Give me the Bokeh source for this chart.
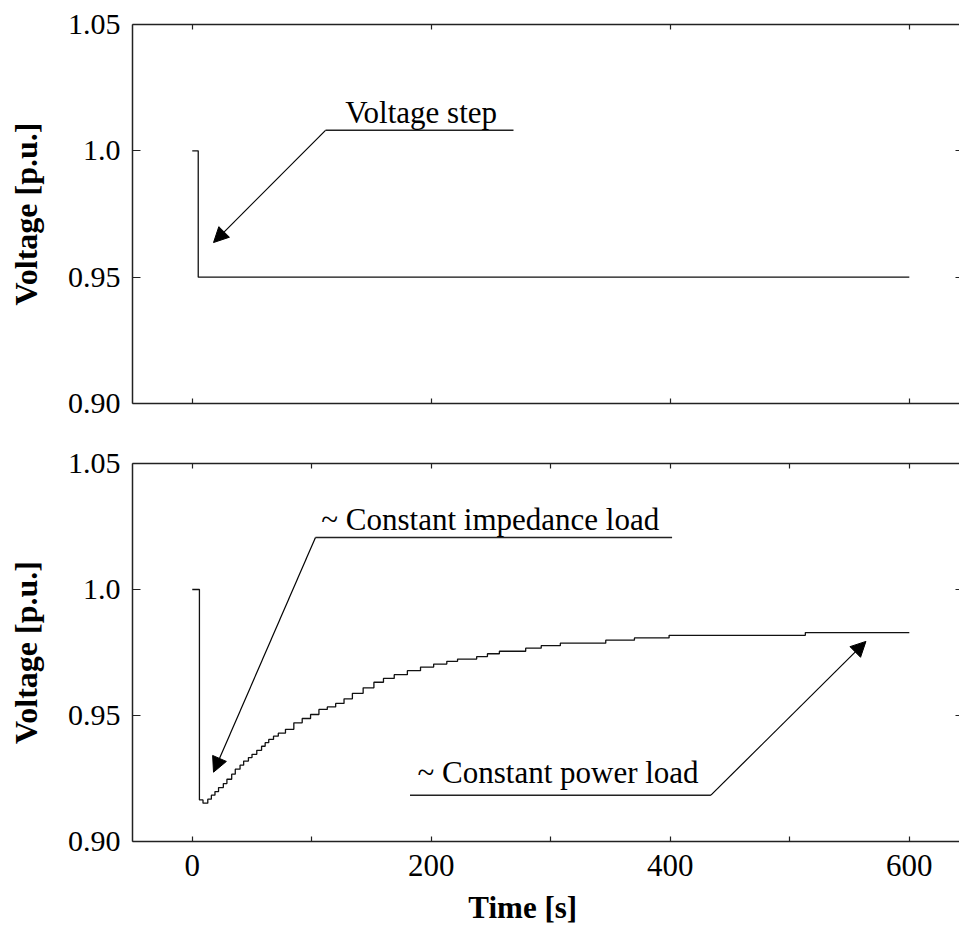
from bokeh.plotting import figure
from bokeh.layouts import column
from bokeh.models import (FixedTicker, CustomJSTickFormatter, LinearAxis, Label,
                          Arrow, NormalHead, Range1d)
from bokeh.embed import file_html
from bokeh.resources import INLINE

# ---- data ----
step_t = [0, 5, 600]
step_v = [1.0, 0.95, 0.95]

load_t = [0, 6, 9, 13, 16, 19, 22, 26, 29, 33, 36, 40, 43, 47, 50, 54, 58, 61, 64, 68,
          72, 78, 85, 92, 99, 106, 113, 120, 127, 134, 143, 152, 160, 169, 180, 191,
          202, 213, 222, 238, 247, 257, 279, 292, 308, 346, 370, 399, 513, 600]
load_v = [1.0, 0.9165, 0.9152, 0.9168, 0.9184, 0.9198, 0.9214, 0.9230, 0.9247, 0.9267,
          0.9287, 0.9303, 0.9319, 0.9333, 0.9346, 0.9362, 0.9378, 0.9392, 0.9405, 0.9418,
          0.9430, 0.9445, 0.9471, 0.9488, 0.9504, 0.9524, 0.9534, 0.9548, 0.9566, 0.9588,
          0.9610, 0.9632, 0.9647, 0.9662, 0.9678, 0.9692, 0.9704, 0.9715, 0.9724, 0.9734,
          0.9745, 0.9755, 0.9767, 0.9777, 0.9787, 0.9799, 0.9808, 0.9818, 0.9829, 0.9829]

y_ticks = [0.90, 0.95, 1.0, 1.05]
x_ticks_major = [0, 200, 400, 600]
x_ticks_all = [0, 100, 200, 300, 400, 500, 600]

# annotation geometry (data units)
ann_top = dict(text="Voltage step", tx=128, ty=1.0152,
               ux0=111.5, ux1=268.8, uy=1.0081, ax=17.8, ay=0.9637)
ann_imp = dict(text="~ Constant impedance load", tx=108, ty=1.0279,
               ux0=103.1, ux1=401.5, uy=1.0206, ax=17.8, ay=0.9275)
ann_pow = dict(text="~ Constant power load", tx=188.5, ty=0.9273,
               ux0=182.2, ux1=434.0, uy=0.9184, ax=563.7, ay=0.9794)

FONT = "Liberation Serif"
AX_COLOR = "#222222"
NBSP = "\u00a0"

yfmt = CustomJSTickFormatter(code="const s = tick.toFixed(2); return s === '1.00' ? '1.0' : s;")
xfmt = CustomJSTickFormatter(code="const r = Math.round(tick); return (r % 200 === 0) ? String(r) : '';")
blank = CustomJSTickFormatter(code="return '';")


def make_panel(height, border_top, border_bottom, top_ticks, bottom_ticks, bottom_labels):
    p = figure(width=959, height=height, output_backend="svg", toolbar_location=None,
               x_range=Range1d(-50, 642), y_range=Range1d(0.90, 1.05),
               min_border_left=132, min_border_right=0,
               min_border_top=border_top, min_border_bottom=border_bottom,
               x_axis_location=None, y_axis_location=None)
    p.outline_line_color = None
    p.grid.visible = False
    p.background_fill_color = "white"
    p.border_fill_color = "white"

    # left axis
    ly = LinearAxis(ticker=FixedTicker(ticks=y_ticks, minor_ticks=[]), formatter=yfmt,
                    axis_label="Voltage [p.u.]")
    ly.axis_label_text_font = FONT
    ly.axis_label_text_font_style = "bold"
    ly.axis_label_text_font_size = "32px"
    ly.axis_label_text_color = "black"
    ly.axis_label_standoff = 21
    ly.major_label_text_font = FONT
    ly.major_label_text_font_size = "30px"
    ly.major_label_text_color = "black"
    ly.major_label_standoff = 12
    ly.major_tick_in = 8
    ly.major_tick_out = 0
    ly.axis_line_color = AX_COLOR
    ly.axis_line_width = 1.5
    ly.major_tick_line_color = AX_COLOR
    ly.major_tick_line_width = 1.2
    p.add_layout(ly, "left")

    # right axis (ticks only)
    ry = LinearAxis(ticker=FixedTicker(ticks=y_ticks, minor_ticks=[]), formatter=blank)
    ry.major_label_standoff = 0
    ry.major_label_text_font_size = "1px"
    ry.major_tick_in = 4
    ry.major_tick_out = 0
    ry.axis_line_color = None
    ry.major_tick_line_color = AX_COLOR
    ry.major_tick_line_width = 1.2
    p.add_layout(ry, "right")

    # top axis (ticks only)
    tx = LinearAxis(ticker=FixedTicker(ticks=top_ticks, minor_ticks=[]), formatter=blank)
    tx.major_label_standoff = 0
    tx.major_label_text_font_size = "1px"
    tx.major_tick_in = 5
    tx.major_tick_out = 0
    tx.axis_line_color = AX_COLOR
    tx.axis_line_width = 1.5
    tx.major_tick_line_color = AX_COLOR
    tx.major_tick_line_width = 1.2
    p.add_layout(tx, "above")

    # bottom axis
    bx = LinearAxis(ticker=FixedTicker(ticks=bottom_ticks, minor_ticks=[]),
                    formatter=xfmt if bottom_labels else blank)
    if bottom_labels:
        bx.major_label_text_font = FONT
        bx.major_label_text_font_size = "31px"
        bx.major_label_text_color = "black"
        bx.major_label_standoff = 13
        # label shifted left of the frame centre as in the reference (trailing no-break spaces)
        bx.axis_label = "Time [s]" + NBSP * 6
        bx.axis_label_text_font = FONT
        bx.axis_label_text_font_style = "bold"
        bx.axis_label_text_font_size = "31px"
        bx.axis_label_text_color = "black"
        bx.axis_label_standoff = 11
    else:
        bx.major_label_standoff = 0
        bx.major_label_text_font_size = "1px"
    bx.major_tick_in = 5
    bx.major_tick_out = 0
    bx.axis_line_color = AX_COLOR
    bx.axis_line_width = 1.5
    bx.major_tick_line_color = AX_COLOR
    bx.major_tick_line_width = 1.2
    p.add_layout(bx, "below")
    return p


def annotate(p, a):
    p.line([a["ux0"], a["ux1"]], [a["uy"], a["uy"]], line_color=AX_COLOR, line_width=1.5)
    start_x = a["ux0"] if a["ax"] < a["ux0"] else a["ux1"]
    p.add_layout(Arrow(x_start=start_x, y_start=a["uy"], x_end=a["ax"], y_end=a["ay"],
                       line_color="black", line_width=1.2,
                       end=NormalHead(size=15, fill_color="black", line_color="black")))
    p.add_layout(Label(x=a["tx"], y=a["ty"], text=a["text"], text_font=FONT,
                       text_font_size="31px", text_baseline="alphabetic", text_align="left",
                       text_color="black"))


top = make_panel(433, 24, 30, x_ticks_major, x_ticks_major, False)
top.step(step_t, step_v, mode="after", line_color="#111111", line_width=1.3)
annotate(top, ann_top)

bot = make_panel(494, 30, 84, x_ticks_all, x_ticks_all, True)
bot.step(load_t, load_v, mode="after", line_color="#111111", line_width=1.3)
annotate(bot, ann_imp)
annotate(bot, ann_pow)

layout = column(top, bot, spacing=0)
open("out.html", "w").write(file_html(layout, INLINE))
